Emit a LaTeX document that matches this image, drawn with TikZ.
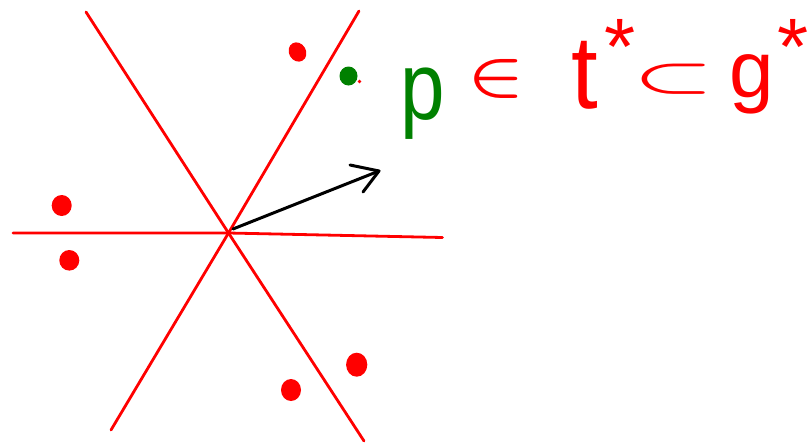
\documentclass[tikz,border=0pt]{standalone}
\usepackage{fontspec}
\usepackage{graphicx}
\newfontfamily\handfont{Liberation Sans}
\definecolor{penred}{RGB}{255,0,0}
\definecolor{pengreen}{RGB}{0,128,0}
\begin{document}
\begin{tikzpicture}[x=1pt,y=-1pt,
  redstroke/.style={draw=penred,line width=2.8pt,line cap=round,line join=round},
  inkarrow/.style={draw=black,line width=3pt,line cap=round,line join=round},
  glyph/.style={inner sep=0pt,outer sep=0pt},
  redglyph/.style={glyph,text=penred},
  boldsym/.style={font=\boldmath},
  bigletter/.style={font=\handfont\fontsize{80}{80}\selectfont},
  starfont/.style={font=\handfont\fontsize{80}{80}\selectfont}]
\useasboundingbox (0,0) rectangle (812,445);
% lines through the origin
\coordinate (o) at (228.5,233);
\coordinate (l1a) at (86,12);   \coordinate (l1b) at (364,441);
\coordinate (l2a) at (359,11);  \coordinate (l2b) at (111,430);
\coordinate (l3a) at (13,233);  \coordinate (l3b) at (442.5,237.5);
\draw[redstroke] (l1a) -- (o) -- (l1b);
\draw[redstroke] (l2a) -- (o) -- (l2b);
\draw[redstroke] (l3a) -- (o) -- (l3b);
% dots
\fill[penred,rotate around={30:(297.5,52)}] (297.5,52) ellipse [x radius=8.5pt,y radius=10pt];
\fill[pengreen] (348.5,76) ellipse [x radius=9pt,y radius=9.5pt];
\fill[penred] (359.5,81.5) circle [radius=1.8pt];
\fill[penred] (61.7,205.5) ellipse [x radius=10pt,y radius=10.5pt];
\fill[penred] (69.3,260.3) ellipse [x radius=10pt,y radius=10.3pt];
\fill[penred] (356.7,364.7) ellipse [x radius=10.6pt,y radius=12pt];
\fill[penred] (291,390) ellipse [x radius=10pt,y radius=11pt];
% arrow
\coordinate (a0) at (233,229);
\coordinate (a1) at (379,171);
\coordinate (h1) at (350,165);
\coordinate (h2) at (363,192);
\draw[inkarrow] (a0) -- (a1);
\draw[inkarrow] (h1) -- (a1) -- (h2);
% formula
\node[glyph,text=pengreen,bigletter,anchor=base] (p) at (423,119) {\scalebox{1}[1.2]{p}};
\node[redglyph,boldsym,anchor=center] (elem) at (496,79) {\scalebox{7.5}[5.8]{$\in$}};
\node[redglyph,bigletter,anchor=base] (t) at (585,108) {\scalebox{1.2}[1.3]{t}};
\node[redglyph,starfont,anchor=center] (s1) at (620,47) {*};
\node[redglyph,boldsym,anchor=center] (sub) at (674,79) {\scalebox{9}[4.5]{$\subset$}};
\node[redglyph,font=\handfont\fontsize{80}{80}\selectfont,anchor=base] (g) at (752,97) {g};
\node[redglyph,starfont,anchor=center] (s2) at (793,47) {*};
\end{tikzpicture}
\end{document}
